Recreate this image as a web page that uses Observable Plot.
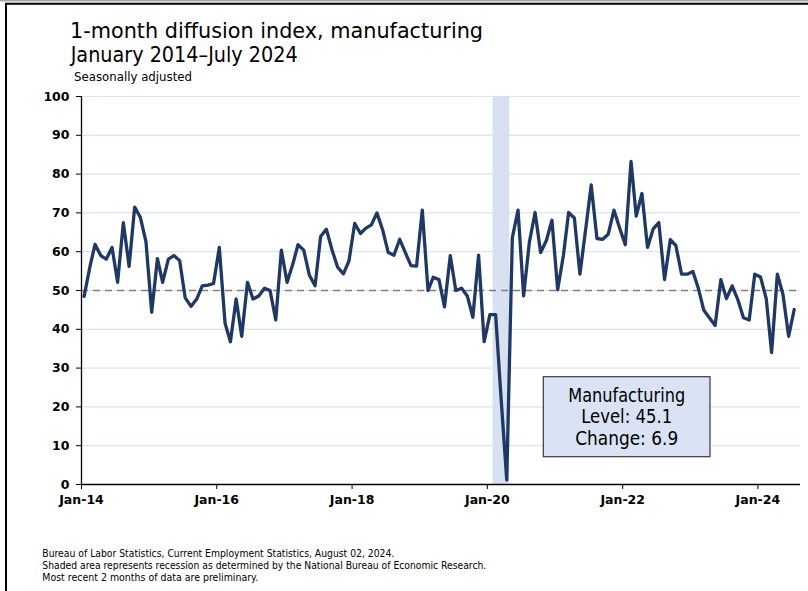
<!DOCTYPE html>
<html><head><meta charset="utf-8">
<script src="https://cdn.jsdelivr.net/npm/d3@7"></script>
<script src="https://cdn.jsdelivr.net/npm/@observablehq/plot@0.6"></script>
<style>
body{margin:0;background:#fff;}
#chart{position:relative;width:808px;height:591px;overflow:hidden;background:#fff;}
</style></head><body><div id="chart"></div>
<script>
// ---- Data (Jan 2014 – Jul 2024, monthly) ----
const startYear = 2014;
const values = [
  48.5, 56.0, 61.9, 59.0, 58.1, 61.1, 52.1, 67.5, 56.2, 71.5, 68.8, 62.6,   // 2014
  44.4, 58.2, 52.1, 58.1, 59.0, 57.7, 48.1, 45.9, 47.8, 51.2, 51.4, 51.8,   // 2015
  61.1, 41.6, 36.8, 47.8, 38.2, 52.1, 47.8, 48.6, 50.6, 50.0, 42.4, 60.4,   // 2016
  52.1, 56.8, 61.8, 60.4, 54.0, 51.2, 63.9, 65.8, 60.4, 56.0, 54.3, 57.6,   // 2017
  67.3, 64.7, 66.0, 66.9, 70.0, 65.6, 59.8, 59.1, 63.2, 59.8, 56.4, 56.3,   // 2018
  70.7, 50.0, 53.4, 52.8, 45.8, 59.0, 50.0, 50.6, 48.6, 43.1, 59.1, 36.8,   // 2019
  43.8, 43.8, 22.5, 1.2, 63.6, 70.7, 48.6, 62.4, 70.1, 59.8, 62.9, 68.1,    // 2020
  50.2, 59.1, 70.1, 68.7, 54.2, 65.7, 77.2, 63.4, 63.2, 64.5, 70.7, 66.2,   // 2021
  61.8, 83.3, 69.2, 75.0, 61.1, 65.9, 67.5, 52.8, 63.1, 61.6, 54.2, 54.2,   // 2022
  54.9, 50.3, 44.9, 42.9, 41.0, 52.8, 47.9, 51.2, 47.6, 43.0, 42.4, 54.2,   // 2023
  53.5, 47.9, 34.0, 54.2, 49.1, 38.2, 45.1                                  // 2024
];
const xTickYears = [2014, 2016, 2018, 2020, 2022, 2024];
const xTickLabels = ["Jan-14", "Jan-16", "Jan-18", "Jan-20", "Jan-22", "Jan-24"];
const yTicks = [0, 10, 20, 30, 40, 50, 60, 70, 80, 90, 100];
const recessions = [{start: "2020-02-01", end: "2020-05-01"}];
const referenceLevel = [50];
const titleText = "1-month diffusion index, manufacturing";
const subtitleText = "January 2014–July 2024";
const noteText = "Seasonally adjusted";
const footnotes = [
  "Bureau of Labor Statistics, Current Employment Statistics, August 02, 2024.",
  "Shaded area represents recession as determined by the National Bureau of Economic Research.",
  "Most recent 2 months of data are preliminary."
];
const boxLines = ["Manufacturing", "Level: 45.1", "Change: 6.9"];

// ---- Build ----
const data = values.map((v, i) => ({date: new Date(Date.UTC(startYear, i, 15)), value: v}));
const xStart = new Date(Date.UTC(2014, 0, 1));
const xEnd = new Date(Date.UTC(2024, 7, 18));
const xTicks = xTickYears.map(y => new Date(Date.UTC(y, 0, 1)));

const FONT = "DejaVu Sans";
const chart = Plot.plot({
  width: 808, height: 591,
  marginTop: 96, marginBottom: 107, marginLeft: 81, marginRight: 8,
  style: {fontFamily: FONT, background: "transparent", color: "#000"},
  x: {type: "utc", domain: [xStart, xEnd]},
  y: {domain: [0, 100]},
  marks: [
    Plot.gridY(yTicks, {stroke: "#dce4f2", strokeOpacity: 1, strokeWidth: 1.2}),
    Plot.rect(recessions, {x1: d => new Date(d.start), x2: d => new Date(d.end), y1: 0, y2: 100, fill: "#d7e1f2"}),
    Plot.ruleY(referenceLevel, {stroke: "#808080", strokeDasharray: "7,5", strokeWidth: 1.6}),
    Plot.lineY(data, {x: "date", y: "value", stroke: "#1f3864", strokeWidth: 3.3}),
    Plot.ruleY([0], {stroke: "#000", strokeWidth: 1.3}),
    Plot.ruleX([xStart], {y1: 0, y2: 100, stroke: "#000", strokeWidth: 1.3}),
    Plot.axisY({ticks: yTicks, tickSize: 5, tickPadding: 7, fontSize: 12.5, fontWeight: "bold", label: null, stroke: "#000"}),
    Plot.axisX({ticks: xTicks, tickFormat: d => xTickLabels[xTickYears.indexOf(d.getUTCFullYear())],
      tickSize: 5, tickPadding: 6, fontSize: 12.5, fontWeight: "bold", label: null, stroke: "#000"})
  ]
});
document.getElementById("chart").appendChild(chart);

// ---- Annotations (titles, footnotes, frame, info box) ----
const svg = d3.select(chart);
function addText(str, x, y, size, len, anchor = "start", weight = "normal") {
  const t = svg.append("text")
    .attr("x", x).attr("y", y)
    .attr("font-family", FONT).attr("font-size", size)
    .attr("font-weight", weight)
    .attr("fill", "#000").attr("text-anchor", anchor)
    .text(str);
  if (len) t.attr("textLength", len).attr("lengthAdjust", "spacingAndGlyphs");
  return t;
}
// frame
svg.append("line").attr("x1", 0).attr("x2", 808).attr("y1", 0.7).attr("y2", 0.7).attr("stroke", "#a6a6a6").attr("stroke-width", 1.5);
svg.append("line").attr("x1", 5).attr("x2", 808).attr("y1", 3.8).attr("y2", 3.8).attr("stroke", "#000").attr("stroke-width", 2);
svg.append("line").attr("x1", 6).attr("x2", 6).attr("y1", 3).attr("y2", 591).attr("stroke", "#000").attr("stroke-width", 2);

addText(titleText, 70, 38, 21, 413);
addText(subtitleText, 70.7, 62, 21, 227);
addText(noteText, 74, 80.5, 13, 118);
const fnLens = [352, 444, 216];
footnotes.forEach((s, i) => addText(s, 42.3, 556.5 + i * 12, 10.5, fnLens[i]));

// info box
svg.append("rect").attr("x", 543.3).attr("y", 376.7).attr("width", 166.7).attr("height", 80)
  .attr("fill", "#dae3f3").attr("stroke", "#3a3a3a").attr("stroke-width", 1.2);
const boxLens = [117, 91, 103];
boxLines.forEach((s, i) => addText(s, 626.7, 401.7 + i * 21.7, 19.5, boxLens[i], "middle"));
</script></body></html>
